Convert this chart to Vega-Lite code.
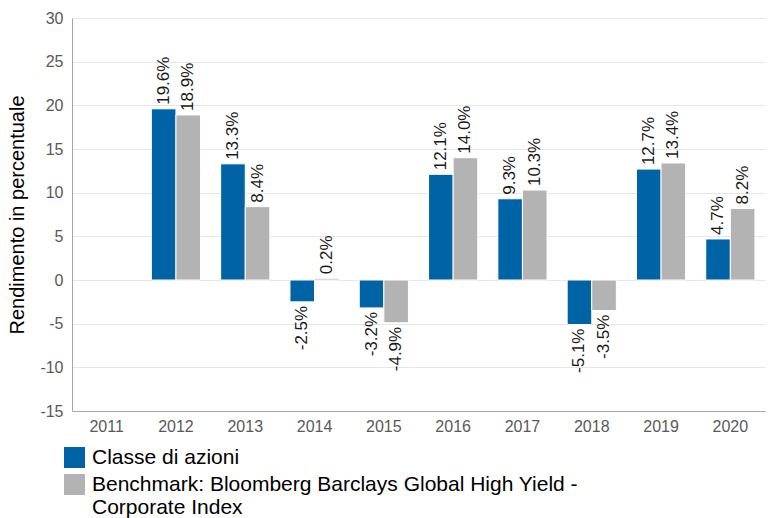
{
  "$schema": "https://vega.github.io/schema/vega-lite/v6.json",
  "width": 693,
  "height": 393,
  "autosize": {"type": "none"},
  "padding": {"left": 72, "top": 18, "right": 3, "bottom": 107},
  "config": {"view": {"stroke": null}, "font": "Liberation Sans"},
  "data": {
    "values": [
      {"year": "2012", "series": "Classe di azioni", "value": 19.6},
      {"year": "2012", "series": "Benchmark", "value": 18.9},
      {"year": "2013", "series": "Classe di azioni", "value": 13.3},
      {"year": "2013", "series": "Benchmark", "value": 8.4},
      {"year": "2014", "series": "Classe di azioni", "value": -2.5},
      {"year": "2014", "series": "Benchmark", "value": 0.2},
      {"year": "2015", "series": "Classe di azioni", "value": -3.2},
      {"year": "2015", "series": "Benchmark", "value": -4.9},
      {"year": "2016", "series": "Classe di azioni", "value": 12.1},
      {"year": "2016", "series": "Benchmark", "value": 14.0},
      {"year": "2017", "series": "Classe di azioni", "value": 9.3},
      {"year": "2017", "series": "Benchmark", "value": 10.3},
      {"year": "2018", "series": "Classe di azioni", "value": -5.1},
      {"year": "2018", "series": "Benchmark", "value": -3.5},
      {"year": "2019", "series": "Classe di azioni", "value": 12.7},
      {"year": "2019", "series": "Benchmark", "value": 13.4},
      {"year": "2020", "series": "Classe di azioni", "value": 4.7},
      {"year": "2020", "series": "Benchmark", "value": 8.2}
    ]
  },
  "transform": [{"calculate": "(datum.value < 0 ? '-' : '') + format(abs(datum.value), '.1f') + '%'", "as": "lbl"}],
  "encoding": {
    "x": {
      "field": "year",
      "type": "nominal",
      "scale": {
        "domain": ["2011", "2012", "2013", "2014", "2015", "2016", "2017", "2018", "2019", "2020"],
        "paddingInner": 0.29,
        "paddingOuter": 0.145
      },
      "axis": {
        "title": null,
        "labelAngle": 0,
        "labelFontSize": 16,
        "labelColor": "#595959",
        "ticks": false,
        "labelPadding": 7,
        "domainColor": "#a6a6a6",
        "grid": false
      }
    },
    "xOffset": {
      "field": "series",
      "type": "nominal",
      "scale": {"domain": ["Classe di azioni", "Benchmark"], "paddingInner": 0, "paddingOuter": 0}
    },
    "y": {
      "field": "value",
      "type": "quantitative",
      "scale": {"domain": [-15, 30], "nice": false},
      "axis": {
        "title": "Rendimento in percentuale",
        "titleFontSize": 20,
        "titleFontWeight": "normal",
        "titleColor": "#000000",
        "titlePadding": 12,
        "labelFontSize": 16,
        "labelColor": "#595959",
        "ticks": false,
        "labelPadding": 9,
        "values": [-15, -10, -5, 0, 5, 10, 15, 20, 25, 30],
        "labelExpr": "toString(datum.value)",
        "domainColor": "#a6a6a6",
        "gridColor": "#e6e6e6"
      }
    }
  },
  "layer": [
    {
      "mark": {"type": "bar", "stroke": "#ffffff", "strokeWidth": 1},
      "encoding": {
        "color": {
          "field": "series",
          "type": "nominal",
          "scale": {"domain": ["Classe di azioni", "Benchmark"], "range": ["#0063a6", "#b3b3b3"]},
          "legend": {
            "orient": "none",
            "legendX": -8,
            "legendY": 429,
            "direction": "vertical",
            "title": null,
            "symbolType": "square",
            "symbolSize": 441,
            "symbolStrokeWidth": 0,
            "symbolOpacity": 1,
            "labelFontSize": 21,
            "labelColor": "#000000",
            "labelLimit": 0,
            "rowPadding": 5,
            "labelOffset": 7,
            "padding": 0,
            "labelExpr": "datum.label == 'Benchmark' ? ['Benchmark: Bloomberg Barclays Global High Yield -', 'Corporate Index'] : datum.label"
          }
        }
      }
    },
    {
      "transform": [{"filter": "datum.value >= 0"}],
      "mark": {"type": "text", "angle": 270, "align": "left", "baseline": "middle", "dx": 4, "fontSize": 17, "color": "#1a1a1a"},
      "encoding": {"text": {"field": "lbl", "type": "nominal"}}
    },
    {
      "transform": [{"filter": "datum.value < 0"}],
      "mark": {"type": "text", "angle": 270, "align": "right", "baseline": "middle", "dx": -4, "fontSize": 17, "color": "#1a1a1a"},
      "encoding": {"text": {"field": "lbl", "type": "nominal"}}
    }
  ]
}
